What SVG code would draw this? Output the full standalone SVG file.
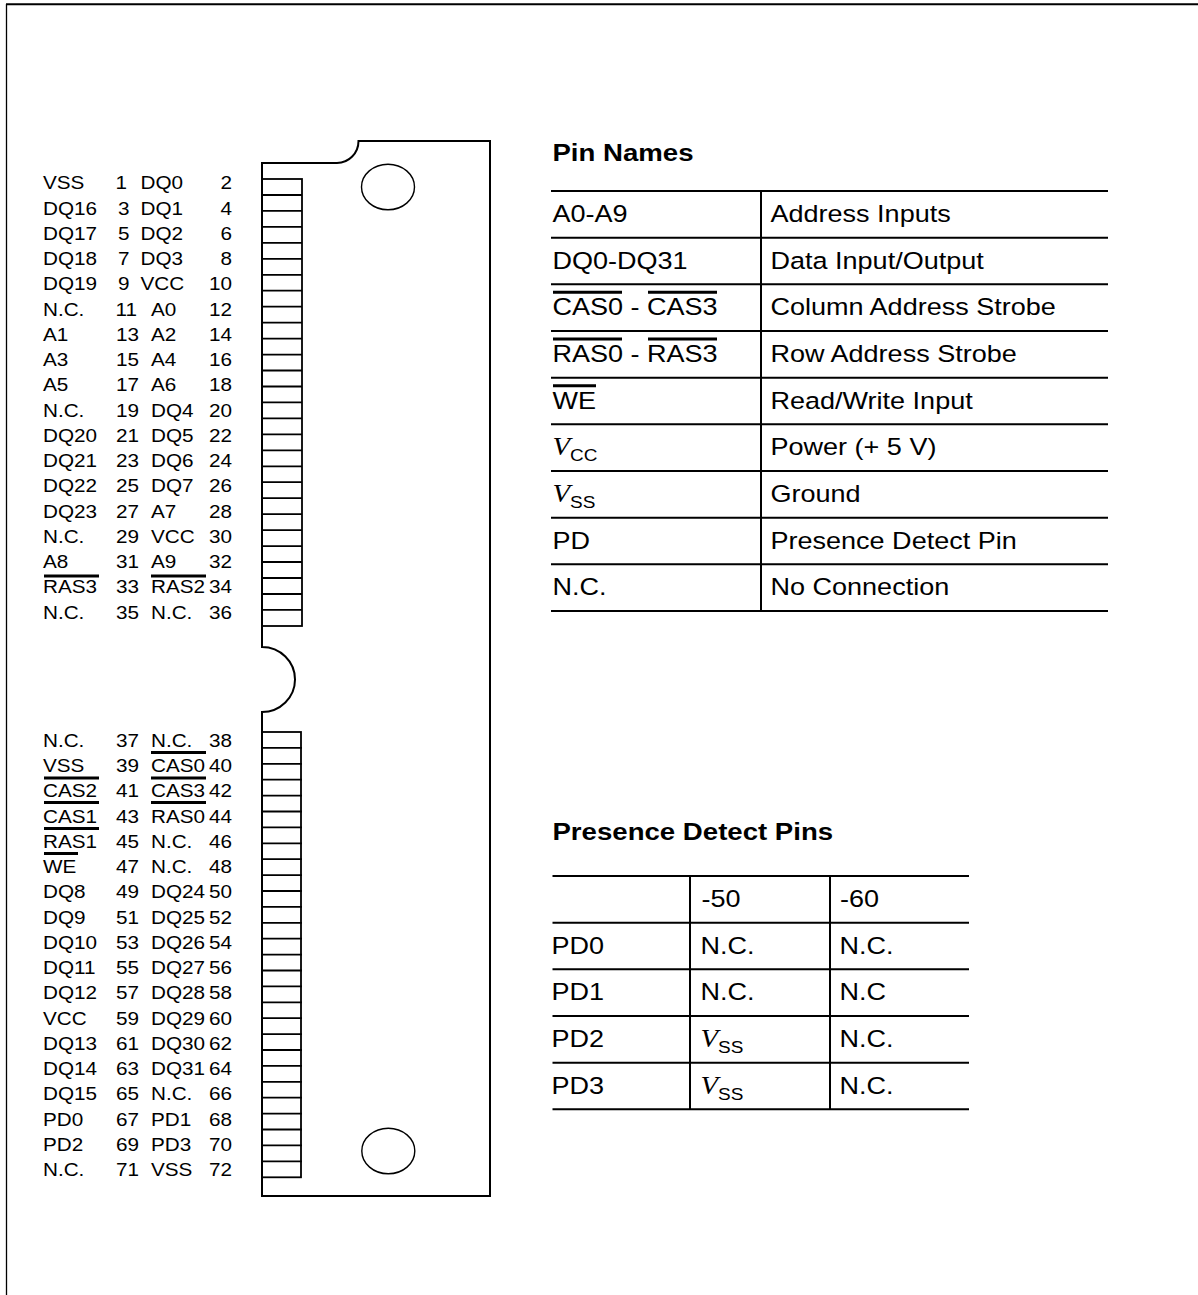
<svg xmlns="http://www.w3.org/2000/svg" width="1198" height="1295" viewBox="0 0 1198 1295">
<style>
.t{font-family:"Liberation Sans",Arial,sans-serif;font-size:18px;fill:#000}
.tt{font-family:"Liberation Sans",Arial,sans-serif;font-size:23.5px;fill:#000}
.tb{font-family:"Liberation Sans",Arial,sans-serif;font-size:24px;font-weight:bold;fill:#000}
.v{font-family:"Liberation Serif","Times New Roman",serif;font-style:italic;font-size:25px}
.sub{font-family:"Liberation Sans",Arial,sans-serif;font-style:normal;font-size:16.5px}
.e{text-anchor:end}
.ln{stroke:#000;stroke-width:2;fill:none}
.pl{stroke:#000;stroke-width:1.8;fill:none}
.ol{stroke:#000;stroke-width:3}
</style>
<rect width="1198" height="1295" fill="#fff"/>
<g id="frame">
<line x1="6" y1="4.3" x2="1198" y2="4.3" stroke="#000" stroke-width="2"/>
<line x1="6.5" y1="4" x2="6.5" y2="1295" stroke="#000" stroke-width="1.3"/>
</g>
<g id="module">
<path class="ln" d="M262 163 H337 A21.5 22 0 0 0 358.5 141 H490 V1196 H262 V712 A33 32.5 0 0 0 262 647 Z"/>
<ellipse cx="388" cy="187" rx="26.5" ry="22.8" fill="none" stroke="#000" stroke-width="1.4"/>
<ellipse cx="388.3" cy="1151" rx="26.5" ry="22.8" fill="none" stroke="#000" stroke-width="1.4"/>
<rect class="pl" x="262" y="179" width="40" height="447"/>
<path class="pl" d="M262 195H302M262 210.9H302M262 226.9H302M262 242.8H302M262 258.8H302M262 274.8H302M262 290.7H302M262 306.7H302M262 322.6H302M262 338.6H302M262 354.6H302M262 370.5H302M262 386.5H302M262 402.4H302M262 418.4H302M262 434.4H302M262 450.3H302M262 466.3H302M262 482.2H302M262 498.2H302M262 514.2H302M262 530.1H302M262 546.1H302M262 562H302M262 578H302M262 594H302M262 609.9H302"/>
<rect class="pl" x="262" y="732" width="39" height="445.3"/>
<path class="pl" d="M262 747.9H302M262 763.8H302M262 779.7H302M262 795.6H302M262 811.5H302M262 827.4H302M262 843.3H302M262 859.2H302M262 875.1H302M262 891H302M262 906.9H302M262 922.8H302M262 938.7H302M262 954.6H302M262 970.5H302M262 986.4H302M262 1002.3H302M262 1018.2H302M262 1034.1H302M262 1050H302M262 1065.9H302M262 1081.8H302M262 1097.7H302M262 1113.6H302M262 1129.5H302M262 1145.4H302M262 1161.3H302"/>
</g>
<g id="pinlist-top" class="t" transform="scale(1.15 1)">
<text x="37.4" y="189.5">VSS</text><text x="100.4" y="189.5">1</text><text x="122.2" y="189.5">DQ0</text><text class="e" x="201.7" y="189.5">2</text>
<text x="37.4" y="214.75">DQ16</text><text x="102.6" y="214.75">3</text><text x="122.2" y="214.75">DQ1</text><text class="e" x="201.7" y="214.75">4</text>
<text x="37.4" y="240">DQ17</text><text x="102.6" y="240">5</text><text x="122.2" y="240">DQ2</text><text class="e" x="201.7" y="240">6</text>
<text x="37.4" y="265.25">DQ18</text><text x="102.6" y="265.25">7</text><text x="122.2" y="265.25">DQ3</text><text class="e" x="201.7" y="265.25">8</text>
<text x="37.4" y="290.5">DQ19</text><text x="102.6" y="290.5">9</text><text x="122.2" y="290.5">VCC</text><text class="e" x="201.7" y="290.5">10</text>
<text x="37.4" y="315.75">N.C.</text><text x="100.4" y="315.75">11</text><text x="131.3" y="315.75">A0</text><text class="e" x="201.7" y="315.75">12</text>
<text x="37.4" y="341">A1</text><text x="100.9" y="341">13</text><text x="131.3" y="341">A2</text><text class="e" x="201.7" y="341">14</text>
<text x="37.4" y="366.25">A3</text><text x="100.9" y="366.25">15</text><text x="131.3" y="366.25">A4</text><text class="e" x="201.7" y="366.25">16</text>
<text x="37.4" y="391.5">A5</text><text x="100.9" y="391.5">17</text><text x="131.3" y="391.5">A6</text><text class="e" x="201.7" y="391.5">18</text>
<text x="37.4" y="416.75">N.C.</text><text x="100.9" y="416.75">19</text><text x="131.3" y="416.75">DQ4</text><text class="e" x="201.7" y="416.75">20</text>
<text x="37.4" y="442">DQ20</text><text x="100.9" y="442">21</text><text x="131.3" y="442">DQ5</text><text class="e" x="201.7" y="442">22</text>
<text x="37.4" y="467.25">DQ21</text><text x="100.9" y="467.25">23</text><text x="131.3" y="467.25">DQ6</text><text class="e" x="201.7" y="467.25">24</text>
<text x="37.4" y="492.5">DQ22</text><text x="100.9" y="492.5">25</text><text x="131.3" y="492.5">DQ7</text><text class="e" x="201.7" y="492.5">26</text>
<text x="37.4" y="517.75">DQ23</text><text x="100.9" y="517.75">27</text><text x="131.3" y="517.75">A7</text><text class="e" x="201.7" y="517.75">28</text>
<text x="37.4" y="543">N.C.</text><text x="100.9" y="543">29</text><text x="131.3" y="543">VCC</text><text class="e" x="201.7" y="543">30</text>
<text x="37.4" y="568.25">A8</text><text x="100.9" y="568.25">31</text><text x="131.3" y="568.25">A9</text><text class="e" x="201.7" y="568.25">32</text>
<text x="37.4" y="593.5">RAS3</text><text x="100.9" y="593.5">33</text><text x="131.3" y="593.5">RAS2</text><text class="e" x="201.7" y="593.5">34</text>
<text x="37.4" y="618.75">N.C.</text><text x="100.9" y="618.75">35</text><text x="131.3" y="618.75">N.C.</text><text class="e" x="201.7" y="618.75">36</text>
</g>
<g id="pinlist-bottom" class="t" transform="scale(1.15 1)">
<text x="37.4" y="747">N.C.</text><text x="100.9" y="747">37</text><text x="131.3" y="747">N.C.</text><text class="e" x="201.7" y="747">38</text>
<text x="37.4" y="772.25">VSS</text><text x="100.9" y="772.25">39</text><text x="131.3" y="772.25">CAS0</text><text class="e" x="201.7" y="772.25">40</text>
<text x="37.4" y="797.5">CAS2</text><text x="100.9" y="797.5">41</text><text x="131.3" y="797.5">CAS3</text><text class="e" x="201.7" y="797.5">42</text>
<text x="37.4" y="822.75">CAS1</text><text x="100.9" y="822.75">43</text><text x="131.3" y="822.75">RAS0</text><text class="e" x="201.7" y="822.75">44</text>
<text x="37.4" y="848">RAS1</text><text x="100.9" y="848">45</text><text x="131.3" y="848">N.C.</text><text class="e" x="201.7" y="848">46</text>
<text x="37.4" y="873.25">WE</text><text x="100.9" y="873.25">47</text><text x="131.3" y="873.25">N.C.</text><text class="e" x="201.7" y="873.25">48</text>
<text x="37.4" y="898.5">DQ8</text><text x="100.9" y="898.5">49</text><text x="131.3" y="898.5">DQ24</text><text class="e" x="201.7" y="898.5">50</text>
<text x="37.4" y="923.75">DQ9</text><text x="100.9" y="923.75">51</text><text x="131.3" y="923.75">DQ25</text><text class="e" x="201.7" y="923.75">52</text>
<text x="37.4" y="949">DQ10</text><text x="100.9" y="949">53</text><text x="131.3" y="949">DQ26</text><text class="e" x="201.7" y="949">54</text>
<text x="37.4" y="974.25">DQ11</text><text x="100.9" y="974.25">55</text><text x="131.3" y="974.25">DQ27</text><text class="e" x="201.7" y="974.25">56</text>
<text x="37.4" y="999.5">DQ12</text><text x="100.9" y="999.5">57</text><text x="131.3" y="999.5">DQ28</text><text class="e" x="201.7" y="999.5">58</text>
<text x="37.4" y="1024.75">VCC</text><text x="100.9" y="1024.75">59</text><text x="131.3" y="1024.75">DQ29</text><text class="e" x="201.7" y="1024.75">60</text>
<text x="37.4" y="1050">DQ13</text><text x="100.9" y="1050">61</text><text x="131.3" y="1050">DQ30</text><text class="e" x="201.7" y="1050">62</text>
<text x="37.4" y="1075.25">DQ14</text><text x="100.9" y="1075.25">63</text><text x="131.3" y="1075.25">DQ31</text><text class="e" x="201.7" y="1075.25">64</text>
<text x="37.4" y="1100.5">DQ15</text><text x="100.9" y="1100.5">65</text><text x="131.3" y="1100.5">N.C.</text><text class="e" x="201.7" y="1100.5">66</text>
<text x="37.4" y="1125.75">PD0</text><text x="100.9" y="1125.75">67</text><text x="131.3" y="1125.75">PD1</text><text class="e" x="201.7" y="1125.75">68</text>
<text x="37.4" y="1151">PD2</text><text x="100.9" y="1151">69</text><text x="131.3" y="1151">PD3</text><text class="e" x="201.7" y="1151">70</text>
<text x="37.4" y="1176.25">N.C.</text><text x="100.9" y="1176.25">71</text><text x="131.3" y="1176.25">VSS</text><text class="e" x="201.7" y="1176.25">72</text>
</g>
<g id="pinlist-overlines">
<line class="ol" x1="44" y1="576" x2="99" y2="576"/>
<line class="ol" x1="151" y1="576" x2="206" y2="576"/>
<line class="ol" x1="151" y1="752.5" x2="206" y2="752.5"/>
<line class="ol" x1="44" y1="778" x2="99" y2="778"/>
<line class="ol" x1="151" y1="778" x2="206" y2="778"/>
<line class="ol" x1="44" y1="802.5" x2="99" y2="802.5"/>
<line class="ol" x1="151" y1="802.5" x2="206" y2="802.5"/>
<line class="ol" x1="44" y1="828.5" x2="99" y2="828.5"/>
<line class="ol" x1="44" y1="853.5" x2="78" y2="853.5"/>
</g>
<g id="pin-names">
<g class="tb" transform="scale(1.15 1)"><text x="480.4" y="161">Pin Names</text></g>
<path class="ln" d="M551 191H1108M551 237.7H1108M551 284.3H1108M551 331H1108M551 377.7H1108M551 424.3H1108M551 471H1108M551 517.7H1108M551 564.3H1108M551 611H1108M761 191V611"/>
<g class="tt" transform="scale(1.15 1)">
<text x="480.4" y="222">A0-A9</text><text x="670" y="222">Address Inputs</text>
<text x="480.4" y="268.7">DQ0-DQ31</text><text x="670" y="268.7">Data Input/Output</text>
<text x="480.4" y="315.3">CAS0 - CAS3</text><text x="670" y="315.3">Column Address Strobe</text>
<text x="480.4" y="362">RAS0 - RAS3</text><text x="670" y="362">Row Address Strobe</text>
<text x="480.4" y="408.7">WE</text><text x="670" y="408.7">Read/Write Input</text>
<text x="480.4" y="455.3"><tspan class="v">V</tspan><tspan class="sub" dy="6">CC</tspan></text><text x="670" y="455.3">Power (+ 5 V)</text>
<text x="480.4" y="502"><tspan class="v">V</tspan><tspan class="sub" dy="6">SS</tspan></text><text x="670" y="502">Ground</text>
<text x="480.4" y="548.7">PD</text><text x="670" y="548.7">Presence Detect Pin</text>
<text x="480.4" y="595.3">N.C.</text><text x="670" y="595.3">No Connection</text>
</g>
<line class="ol" x1="553" y1="292.3" x2="622" y2="292.3"/>
<line class="ol" x1="648" y1="292.3" x2="717" y2="292.3"/>
<line class="ol" x1="553" y1="339" x2="622" y2="339"/>
<line class="ol" x1="648" y1="339" x2="717" y2="339"/>
<line class="ol" x1="553" y1="385.7" x2="596" y2="385.7"/>
</g>
<g id="presence-detect">
<g class="tb" transform="scale(1.15 1)"><text x="480.4" y="840.5">Presence Detect Pins</text></g>
<path class="ln" d="M552.5 876H969M552.5 922.7H969M552.5 969.3H969M552.5 1016H969M552.5 1062.7H969M552.5 1109.3H969M690 876V1109.3M830 876V1109.3"/>
<g class="tt" transform="scale(1.15 1)">
<text x="610" y="907">-50</text><text x="730.4" y="907">-60</text>
<text x="479.6" y="953.7">PD0</text><text x="609.1" y="953.7">N.C.</text><text x="730" y="953.7">N.C.</text>
<text x="479.6" y="1000.3">PD1</text><text x="609.1" y="1000.3">N.C.</text><text x="730" y="1000.3">N.C</text>
<text x="479.6" y="1047">PD2</text><text x="609.1" y="1047"><tspan class="v">V</tspan><tspan class="sub" dy="6">SS</tspan></text><text x="730" y="1047">N.C.</text>
<text x="479.6" y="1093.7">PD3</text><text x="609.1" y="1093.7"><tspan class="v">V</tspan><tspan class="sub" dy="6">SS</tspan></text><text x="730" y="1093.7">N.C.</text>
</g>
</g>
</svg>
